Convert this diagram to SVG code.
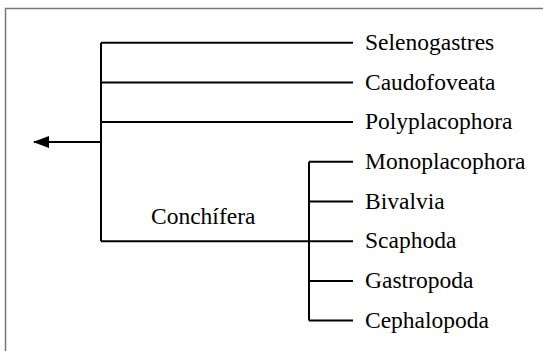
<svg xmlns="http://www.w3.org/2000/svg" width="543" height="351" viewBox="0 0 543 351">
<style>
.t{font-family:"Liberation Serif","Times New Roman",Times,serif;font-size:23.5px;fill:#000}
.l{stroke:#000;stroke-width:2;fill:none}
</style>
<defs>
<marker id="ah" markerWidth="16" markerHeight="12" refX="15" refY="6" orient="auto" markerUnits="userSpaceOnUse">
<path d="M0,0 L16,6 L0,12 Z" fill="#000"/>
</marker>
</defs>
<rect x="5.5" y="8.5" width="545" height="350" fill="#fff" stroke="#777" stroke-width="1.5"/>
<g id="connectors" class="l">
<path d="M101,42.7 V241.2"/>
<path d="M101,42.7 H353"/>
<path d="M101,82.4 H353"/>
<path d="M101,122.1 H353"/>
<path d="M101,241.2 H353"/>
<path d="M101,142 H34" marker-end="url(#ah)"/>
<path d="M309,161.8 V320.6"/>
<path d="M309,161.8 H353"/>
<path d="M309,201.5 H353"/>
<path d="M309,280.9 H353"/>
<path d="M309,320.6 H353"/>
</g>
<g id="selenogastres"><text class="t" x="365" y="50">Selenogastres</text></g>
<g id="caudofoveata"><text class="t" x="365" y="89.5">Caudofoveata</text></g>
<g id="polyplacophora"><text class="t" x="365" y="129">Polyplacophora</text></g>
<g id="monoplacophora"><text class="t" x="365" y="169">Monoplacophora</text></g>
<g id="bivalvia"><text class="t" x="365" y="208.5">Bivalvia</text></g>
<g id="scaphoda"><text class="t" x="365" y="248">Scaphoda</text></g>
<g id="gastropoda"><text class="t" x="365" y="288">Gastropoda</text></g>
<g id="cephalopoda"><text class="t" x="365" y="327.5">Cephalopoda</text></g>
<g id="conchifera"><text class="t" x="151" y="224">Conchífera</text></g>
</svg>
